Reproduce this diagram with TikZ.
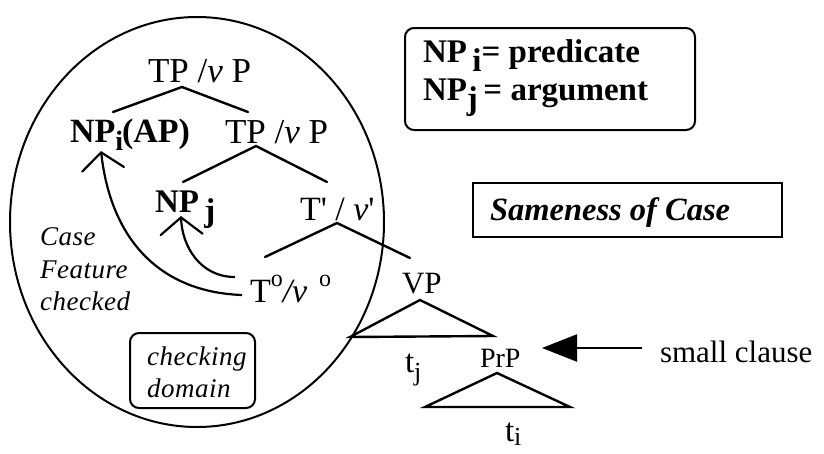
\documentclass[tikz,border=0pt]{standalone}
\usepackage{fontspec}
\setmainfont{Liberation Serif}
\newfontfamily\spacedserif[LetterSpace=2]{Liberation Serif}
\usetikzlibrary{arrows.meta,shapes.geometric}
\newcommand\fsz[1]{\fontsize{#1}{#1}\selectfont}
\begin{document}
\begin{tikzpicture}[x=1pt,y=-1pt,
  lbl/.style={anchor=base west, inner sep=0pt, outer sep=0pt, font=\fsz{34}},
  bnp/.style={lbl, font=\fsz{34}\bfseries},
  note/.style={lbl, font=\fsz{27}\spacedserif\itshape},
  branch/.style={line width=2.4pt, line cap=round},
  frame/.style={draw, line width=2pt, inner sep=0pt},
  checkarrow/.style={line width=2.2pt, -{Straight Barb[length=17pt,width=42pt,line cap=round]}},
]
\useasboundingbox (0,0) rectangle (824,453);

% checking domain ellipse
\node[ellipse, draw, line width=2pt, minimum width=374pt, minimum height=410pt, inner sep=0pt] (dom) at (197,222) {};

% tree labels
\node[lbl, font=\fsz{35}] (tp1) at (148,82) {TP /\textit{ν} P};
\node[bnp] (npi) at (70,142) {NP\raisebox{-0.25em}{\fsz{28}i}\kern-1pt(AP)};
\node[lbl, font=\fsz{35}] (tp2) at (225,143) {TP /\textit{ν} P};
\node[bnp, font=\fsz{33}\bfseries] (npj) at (155,212) {NP\,\raisebox{-0.3em}{j}};
\node[lbl] (tbar) at (300,220) {T\textquotesingle\ / \textit{ν}\textquotesingle};
\node[lbl] (thead) at (250,302) {T\raisebox{0.45em}{\fsz{24}o}\textit{/ν}\hspace{0.35em}\raisebox{0.45em}{\fsz{24}o}};
\node[lbl, font=\fsz{31}] (vp) at (402,293) {VP};
\node[lbl, font=\fsz{33}] (tj) at (405,372) {t\raisebox{-0.25em}{\fsz{26}j}};
\node[lbl, font=\fsz{28}] (prp) at (480,367) {PrP};
\node[lbl, font=\fsz{33}] (ti) at (505,441) {t\raisebox{-0.15em}{\fsz{26}i}};
\node[lbl, font=\fsz{31}] (sc) at (660,362) {small clause};

% branch points
\coordinate (a1) at (182,87);  \coordinate (a1l) at (113,112); \coordinate (a1r) at (248,112);
\coordinate (a2) at (256,146); \coordinate (a2l) at (183,182); \coordinate (a2r) at (327,182);
\coordinate (a3) at (337,223); \coordinate (a3l) at (265,257); \coordinate (a3r) at (410,258);
\coordinate (v0) at (420,300); \coordinate (v1) at (350,337); \coordinate (v2) at (493,336);
\coordinate (p0) at (497,373); \coordinate (p1) at (425,407); \coordinate (p2) at (570,407);

\draw[branch] (a1l) -- (a1) -- (a1r);
\draw[branch] (a2l) -- (a2) -- (a2r);
\draw[branch] (a3l) -- (a3) -- (a3r);
\draw[branch, line join=miter] (v0) -- (v1) -- (v2) -- cycle;
\draw[branch, line join=miter] (p0) -- (p1) -- (p2) -- cycle;

% checking arrows
\coordinate (c1s) at (235,277); \coordinate (c1e) at (181,216);
\coordinate (c2s) at (242,295); \coordinate (c2e) at (101,151);
\draw[checkarrow] (c1s) .. controls (200,277) and (182,246) .. (c1e);
\draw[checkarrow] (c2s) .. controls (160,292) and (111,240) .. (c2e);

% small clause arrow
\coordinate (sctail) at (642,348); \coordinate (sctip) at (542,348);
\draw[line width=2.2pt, -{Triangle[length=35pt,width=27pt]}] (sctail) -- (sctip);

% notes in the domain
\node[note] (case1) at (40,245) {Case};
\node[note] (case2) at (40,278) {Feature};
\node[note] (case3) at (40,310) {checked};
\node[frame, rounded corners=9pt, minimum width=125pt, minimum height=75pt] (chkbox) at (192.5,370.5) {};
\node[note] (chk1) at (147,365) {checking};
\node[note] (chk2) at (147,397) {domain};

% legend boxes
\node[frame, rounded corners=9pt, minimum width=290pt, minimum height=102pt] (defbox) at (550,79) {};
\node[lbl, font=\fsz{33}\bfseries] (def1) at (423,62) {NP\,\raisebox{-0.28em}{i}= predicate};
\node[lbl, font=\fsz{33}\bfseries] (def2) at (423,100) {NP\raisebox{-0.28em}{j}\,= argument};
\node[frame, minimum width=309pt, minimum height=54pt] (samebox) at (627.5,210) {};
\node[lbl, font=\fsz{32.5}\bfseries\itshape] (same) at (490,220) {Sameness of Case};
\end{tikzpicture}
\end{document}
